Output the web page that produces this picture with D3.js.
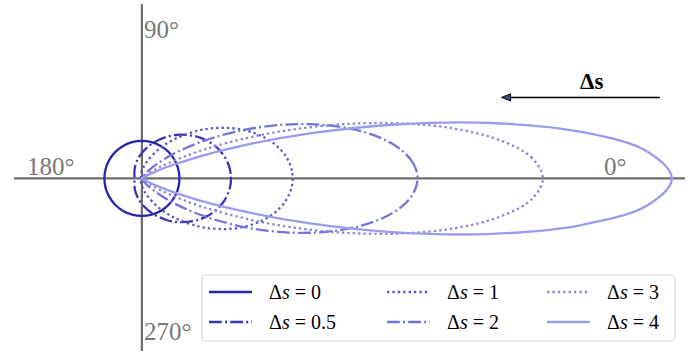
<!DOCTYPE html>
<html>
<head>
<meta charset="utf-8">
<script src="https://cdn.jsdelivr.net/npm/d3@7"></script>
<style>
  html, body { margin: 0; padding: 0; background: #fff; }
  svg { display: block; }
</style>
</head>
<body>
<svg id="chart" width="700" height="355"></svg>
<script>
// Polar angles (degrees) of the sampled upper half; the lower half is its mirror image.
const angles = [0, 3, 6, 9, 12, 15, 18, 21, 25, 30, 35, 40, 50, 60, 75, 90, 105, 120, 135, 150, 165, 180];

// Shift values shown in the legend.
const deltaS = [0, 0.5, 1, 2, 3, 4];

// Pattern radius at each angle, one array per shift (radius of the unshifted circle = 1).
const r_0   = [1, 1, 1, 1, 1, 1, 1, 1, 1, 1, 1, 1, 1, 1, 1, 1, 1, 1, 1, 1, 1, 1];
const r_0_5 = [2.375, 2.371, 2.359, 2.339, 2.311, 2.276, 2.234, 2.186, 2.113, 2.009, 1.894, 1.773, 1.520, 1.271, 0.940, 0.680, 0.492, 0.364, 0.281, 0.230, 0.203, 0.195];
const r_1   = [4.020, 4.004, 3.954, 3.874, 3.765, 3.629, 3.471, 3.294, 3.035, 2.690, 2.337, 1.993, 1.377, 0.897, 0.435, 0.200, 0.092, 0.045, 0.024, 0.015, 0.011, 0.010];
const r_2   = [7.350, 7.258, 6.989, 6.563, 6.012, 5.372, 4.685, 3.989, 3.104, 2.143, 1.392, 0.854, 0.275, 0.074, 0.008, 0.001, 0, 0, 0, 0, 0, 0];
const r_3   = [10.690, 10.415, 9.633, 8.461, 7.058, 5.596, 4.218, 3.026, 1.803, 0.839, 0.344, 0.125, 0.012, 0.001, 0, 0, 0, 0, 0, 0, 0, 0];
const r_4   = [14.130, 13.511, 11.812, 9.448, 6.916, 4.637, 2.852, 1.610, 0.660, 0.177, 0.038, 0.007, 0, 0, 0, 0, 0, 0, 0, 0, 0, 0];
const radii = [r_0, r_0_5, r_1, r_2, r_3, r_4];

// Direction-axis labels.
const axisLabels = ["0°", "90°", "180°", "270°"];

// ---- styling ----
const colors = ["#2626aa", "#3737b8", "#5555cc", "#7474da", "#8585e2", "#9b9bee"];
const dashes = [null, "12.8,3.2,2,3.2", "2.3,3.1", "12.8,3.2,2,3.2", "2.3,3.1", null];

const svg = d3.select("#chart");

// Same pixel length per unit on both axes so the polar curves keep their shape.
const x = d3.scaleLinear().domain([-3.41, 14.48]).range([14, 685]);
const y = d3.scaleLinear().domain([-4.6, 4.65]).range([351, 4]);

const axisColor = "#6e6e6e";
const serif = "Liberation Serif, DejaVu Serif, serif";

// Cartesian axes through the origin
const axes = svg.append("g");
axes.append("line")
  .attr("x1", x(-3.41)).attr("x2", x(14.48))
  .attr("y1", y(0)).attr("y2", y(0))
  .attr("stroke", axisColor).attr("stroke-width", 2.2);
axes.append("line")
  .attr("x1", x(0)).attr("x2", x(0))
  .attr("y1", y(4.65)).attr("y2", y(-4.6))
  .attr("stroke", axisColor).attr("stroke-width", 2.2);

// Angle labels
const labelPos = [
  { x: x(0) + 462, y: y(0) - 3 },   // 0°
  { x: x(0) + 2,   y: y(0) - 140 }, // 90°
  { x: x(0) - 115, y: y(0) - 3 },   // 180°
  { x: x(0) + 2,   y: y(0) + 162 }  // 270°
];
axes.selectAll("text.angle")
  .data(axisLabels)
  .join("text")
  .attr("class", "angle")
  .attr("x", (d, i) => labelPos[i].x)
  .attr("y", (d, i) => labelPos[i].y)
  .style("font-family", serif)
  .style("font-size", "25px")
  .attr("fill", "#787878")
  .text(d => d);

// Build a closed outline from the upper-half samples and their mirror.
function outline(rs) {
  const pts = [];
  angles.forEach((a, i) => pts.push([a, rs[i]]));
  for (let i = angles.length - 2; i >= 1; i--) pts.push([-angles[i], rs[i]]);
  const px = pts.map(([a, r]) => {
    const t = a * Math.PI / 180;
    return [x(r * Math.cos(t)), y(r * Math.sin(t))];
  });
  // drop points that collapse onto the previous one (the cusp at the origin)
  const out = [];
  px.forEach(p => {
    const q = out[out.length - 1];
    if (!q || Math.hypot(p[0] - q[0], p[1] - q[1]) > 0.3) out.push(p);
  });
  const f = out[0], l = out[out.length - 1];
  if (out.length > 1 && Math.hypot(f[0] - l[0], f[1] - l[1]) <= 0.3) out.pop();
  return out;
}

const line = d3.line().curve(d3.curveCatmullRomClosed.alpha(0.5));

svg.append("g")
  .selectAll("path")
  .data(radii)
  .join("path")
  .attr("d", rs => line(outline(rs)))
  .attr("fill", "none")
  .attr("stroke", (d, i) => colors[i])
  .attr("stroke-width", 2.3)
  .attr("stroke-dasharray", (d, i) => dashes[i]);

// Direction arrow with its label
const arrowY = y(2.16);
const arrowX1 = x(13.81), arrowX2 = x(9.59);
const ann = svg.append("g");
ann.append("line")
  .attr("x1", arrowX1).attr("x2", arrowX2 + 8)
  .attr("y1", arrowY).attr("y2", arrowY)
  .attr("stroke", "#000").attr("stroke-width", 1.5);
ann.append("path")
  .attr("d", `M${arrowX2},${arrowY} L${arrowX2 + 9},${arrowY - 3.6} L${arrowX2 + 9},${arrowY + 3.6} Z`)
  .attr("fill", "#2a5590").attr("stroke", "#000").attr("stroke-width", 1);
ann.append("text")
  .attr("x", (arrowX1 + arrowX2) / 2 + 11)
  .attr("y", arrowY - 8)
  .attr("text-anchor", "middle")
  .style("font-family", serif)
  .style("font-weight", "bold")
  .style("font-size", "23px")
  .attr("fill", "#000")
  .text("Δs");

// Legend: three columns, two rows, filled column by column
const legend = svg.append("g");
legend.append("rect")
  .attr("x", 202).attr("y", 275)
  .attr("width", 473).attr("height", 66)
  .attr("rx", 4).attr("ry", 4)
  .attr("fill", "#fff").attr("fill-opacity", 0.85)
  .attr("stroke", "#d4d4d4").attr("stroke-width", 1.2);

const colX = [209, 387, 547];
const rowY = [292, 322];
const handleLen = 43;
deltaS.forEach((v, i) => {
  const cx = colX[Math.floor(i / 2)];
  const cy = rowY[i % 2];
  legend.append("line")
    .attr("x1", cx).attr("x2", cx + handleLen)
    .attr("y1", cy).attr("y2", cy)
    .attr("stroke", colors[i]).attr("stroke-width", 2.3)
    .attr("stroke-dasharray", dashes[i]);
  const t = legend.append("text")
    .attr("x", cx + handleLen + 17)
    .attr("y", cy + 6.5)
    .style("font-family", serif)
    .style("font-size", "20px")
    .attr("fill", "#000");
  t.append("tspan").text("Δ");
  t.append("tspan").style("font-style", "italic").text("s");
  t.append("tspan").attr("dx", 5).text("=");
  t.append("tspan").attr("dx", 5).text(String(v));
});
</script>
</body>
</html>
